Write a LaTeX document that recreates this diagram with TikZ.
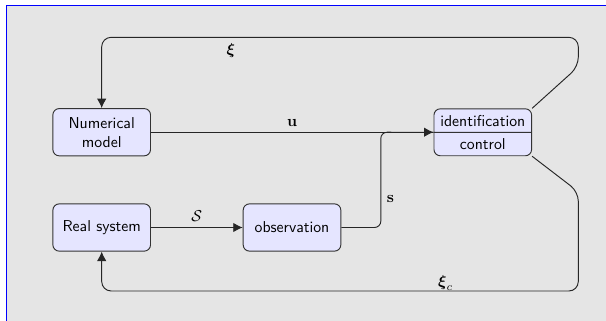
\documentclass[tikz,border=0pt]{standalone}
\usepackage{amsmath,amssymb}
\usetikzlibrary{calc}
\usetikzlibrary{positioning}
\usetikzlibrary{arrows.meta}
\usetikzlibrary{shapes.multipart}
\tikzset{every picture/.style={/utils/exec={\sffamily}}}
\tikzset{block/.style={draw=black!80, fill=blue!10, rounded corners=4pt, line width=0.6pt,
    minimum width=62pt, minimum height=30pt, align=center}}
\tikzset{link/.style={draw=black!85, line width=0.6pt}}

\begin{document}
\begin{tikzpicture}[x=0.635pt, y=-0.635pt, >={Latex[length=6pt,width=6pt]}]
  \useasboundingbox (0,0) rectangle (606,320);
  \fill [black!10] (6,5) rectangle (640,340);
  \fill [blue] (5.5,5) rectangle (7,340);
  \fill [blue] (5.5,4.5) rectangle (640,6);

  \node [block] (num)  at (101.7,132.2) {Numerical\\model};
  \node [block] (real) at (101.7,227.5) {Real system};
  \node [block] (obs)  at (292,227.5) {observation};
  \node [block, rectangle split, rectangle split parts=2, inner ysep=3.6pt, minimum height=28pt]
    (ident) at (482.8,132.3) {identification \nodepart{two} control};

  % feedback loops
  \coordinate (xi1) at (578.3,66.7);
  \coordinate (xi2) at (578.3,37.3);
  \coordinate (xc1) at (578.3,191.7);
  \coordinate (xc2) at (578.3,291);
  \draw [link, ->, rounded corners=6pt] (ident.north east) -- (xi1) -- (xi2) -| (num.north);
  \draw [link, ->, rounded corners=6pt] (ident.south east) -- (xc1) -- (xc2) -| (real.south);
  \node (xilbl) at (230.8,50.7) {$\boldsymbol{\xi}$};
  \node (xclbl) at (445.5,283.3) {$\boldsymbol{\xi}_c$};

  % forward signals
  \draw [link, ->] (num.east) -- (num.east -| ident.west) node [midway, above] {$\mathbf{u}$};
  \draw [link, ->] (real) -- (obs) node [midway, above] {$\mathcal{S}$};
  \coordinate (sbend) at (380.8,132.2);
  \draw [link, rounded corners=4pt] (obs.east) -| (sbend) -- (ident.west);
  \node (slbl) at (390.4,199) {$\mathbf{s}$};

\end{tikzpicture}
\end{document}
